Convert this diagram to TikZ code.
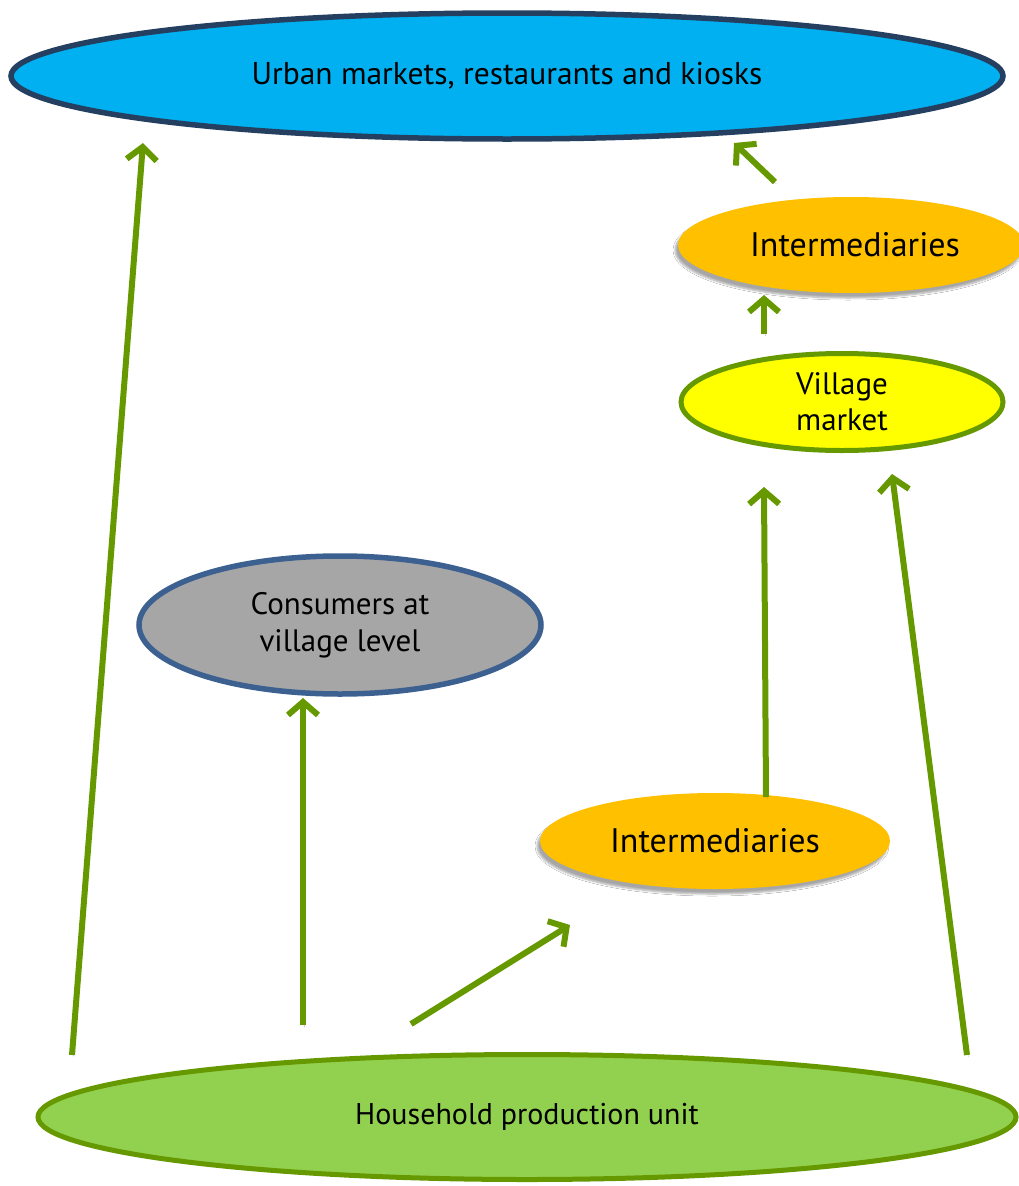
\documentclass[tikz,border=0pt]{standalone}
\usepackage{fontspec}
\setmainfont{PT Sans}
\usetikzlibrary{shapes.geometric,arrows.meta,shadows.blur}

\definecolor{urbanblue}{HTML}{00B0F0}
\definecolor{urbanedge}{HTML}{243F60}
\definecolor{midorange}{HTML}{FFC000}
\definecolor{mktyellow}{HTML}{FFFF00}
\definecolor{leafgreen}{HTML}{669900}
\definecolor{housegreen}{HTML}{92D050}
\definecolor{consgray}{HTML}{A6A6A6}
\definecolor{consedge}{HTML}{3C6090}

\tikzset{
  oval/.style={ellipse, inner sep=0pt, align=center, text=black},
  flow/.style={draw=leafgreen, line width=6pt,
    -{Straight Barb[length=13pt, width=30pt]},
    preaction={draw=black, opacity=0.18,
      transform canvas={shift={(1.5pt,-2pt)}}}},
  midbox/.style={oval, fill=midorange,
    blur shadow={shadow xshift=-3pt, shadow yshift=-5pt, shadow blur steps=6, shadow opacity=35}},
}

\begin{document}
\begin{tikzpicture}[x=1pt, y=-1pt]
  \useasboundingbox[fill=white] (0,0) rectangle (1019,1186);

  % destinations and sources
  \node[oval, fill=urbanblue, draw=urbanedge, line width=5.5pt,
        minimum width=992pt, minimum height=126pt, font=\fontsize{31.5}{36}\selectfont]
        (urban) at (507,76) {Urban markets, restaurants and kiosks};
  \node[midbox, minimum width=346pt, minimum height=96pt, font=\fontsize{34}{40}\selectfont]
        (midtop) at (851,245) {\hspace*{8pt}Intermediaries};
  \node[oval, fill=mktyellow, draw=leafgreen, line width=5pt,
        minimum width=322pt, minimum height=97pt, font=\fontsize{31}{36}\selectfont]
        (village) at (842,402) {Village\\market};
  \node[oval, fill=consgray, draw=consedge, line width=5.5pt,
        minimum width=402pt, minimum height=138pt, font=\fontsize{31}{37}\selectfont]
        (consumers) at (340,625) {Consumers at\\village level};
  \node[midbox, minimum width=350pt, minimum height=96pt, font=\fontsize{34}{40}\selectfont]
        (midlow) at (715,841) {Intermediaries};
  \node[oval, fill=housegreen, draw=leafgreen, line width=5pt,
        minimum width=978pt, minimum height=125pt, font=\fontsize{30}{36}\selectfont]
        (house) at (527,1117) {Household production unit};

  % arrow end points
  \coordinate (a1s) at (72,1055);   \coordinate (a1e) at (143,143);
  \coordinate (a2s) at (303,1025);  \coordinate (a2e) at (303,698);
  \coordinate (a3s) at (411,1024);  \coordinate (a3e) at (570,925);
  \coordinate (a4s) at (766,797);   \coordinate (a4e) at (764,487);
  \coordinate (a5s) at (967,1055);  \coordinate (a5e) at (892,474);
  \coordinate (a6s) at (764,334);   \coordinate (a6e) at (764,295);
  \coordinate (a7s) at (775,182);   \coordinate (a7e) at (734,143);

  % flows
  \draw[flow] (a1s) -- (a1e);
  \draw[flow] (a2s) -- (a2e);
  \draw[flow] (a3s) -- (a3e);
  \draw[flow] (a4s) -- (a4e);
  \draw[flow] (a5s) -- (a5e);
  \draw[flow] (a6s) -- (a6e);
  \draw[flow] (a7s) -- (a7e);
\end{tikzpicture}
\end{document}
